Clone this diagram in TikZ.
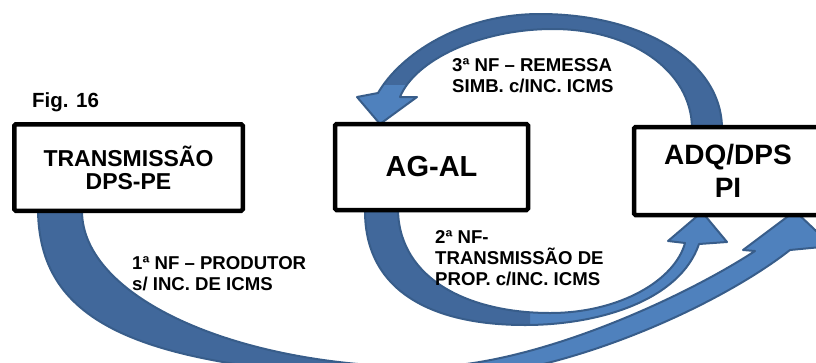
\documentclass[tikz,border=0pt]{standalone}
\usepackage{fontspec}
\setmainfont{Liberation Sans}
\usetikzlibrary{backgrounds}
\definecolor{arrowlight}{HTML}{4F81BD}
\definecolor{arrowdark}{HTML}{41689B}
\definecolor{arrowedge}{HTML}{385D8A}
\begin{document}
\begin{tikzpicture}[x=1pt,y=-1pt,
  box/.style={draw=black, line width=4.5pt, fill=white, rounded corners=1.5pt, align=center, inner sep=0pt},
  lbl/.style={font=\fontsize{18.6}{21}\selectfont\bfseries, align=left, inner sep=0pt, anchor=base west},
  lightpart/.style={fill=arrowlight},
  darkpart/.style={fill=arrowdark},
  arrowline/.style={draw=arrowedge, line width=2pt, line join=round}]
\useasboundingbox (0,0) rectangle (816,362);
\clip (0,0) rectangle (816,362);

% boxes
\node[box, minimum width=228.5pt, minimum height=86.5pt, font=\fontsize{23}{23}\selectfont\bfseries] (tr) at (128.5,167.5) {TRANSMISSÃO\\DPS-PE};
\node[box, minimum width=193pt, minimum height=86pt, font=\fontsize{29}{33}\selectfont\bfseries] (ag) at (431.5,167) {AG-AL};
\node[box, minimum width=188pt, minimum height=88pt, font=\fontsize{28}{33}\selectfont\bfseries] (adq) at (728,171) {ADQ/DPS\\PI};

% labels (base anchor = last line's baseline)
\node[lbl, font=\fontsize{20.5}{24}\selectfont\bfseries] (fig) at (32,107) {Fig. 16};
\node[lbl] (l3) at (452,92) {3ª NF – REMESSA\\SIMB. c/INC. ICMS};
\node[lbl] (l1) at (132,290) {1ª NF – PRODUTOR\\s/ INC. DE ICMS};
\node[lbl] (l2) at (435,285) {2ª NF-\\TRANSMISSÃO DE\\PROP. c/INC. ICMS};

% block arrows
\def\arrowOne{(82,211) .. controls (82,297) and (236,367) .. (425,367)
  .. controls (530,367) and (680,300) .. (755,251)
  -- (743,250) -- (795,211) -- (832,246) -- (790,250)
  .. controls (720,305) and (560,380) .. (425,380)
  .. controls (150,370) and (40,330) .. (38,211) -- cycle}
\def\arrowTwo{(365,211) .. controls (365,290) and (430,325) .. (525,325)
  .. controls (600,325) and (680,300) .. (699,244)
  -- (727,242) -- (702,212) -- (668,241) -- (685,243)
  .. controls (675,280) and (620,313) .. (550,313)
  .. controls (470,313) and (400,280) .. (398,211) -- cycle}
\def\arrowThree{(722,129) .. controls (722,60) and (640,14) .. (540,14)
  .. controls (460,14) and (400,55) .. (378,93)
  -- (357,97) -- (380,124) -- (417,97) -- (400,97)
  .. controls (415,60) and (480,29) .. (553,29)
  .. controls (630,29) and (692,70) .. (692,129) -- cycle}

\begin{pgfonlayer}{background}
  \fill[lightpart] \arrowOne;
  \begin{scope}\clip (0,0) rectangle (440,400); \fill[darkpart] \arrowOne; \end{scope}
  \draw[arrowline] \arrowOne;
  \fill[lightpart] \arrowTwo;
  \begin{scope}\clip (0,0) rectangle (530,400); \fill[darkpart] \arrowTwo; \end{scope}
  \draw[arrowline] \arrowTwo;
  \fill[darkpart] \arrowThree;
  \begin{scope}\clip (340,85) rectangle (430,130); \fill[lightpart] \arrowThree; \end{scope}
  \draw[arrowline] \arrowThree;
\end{pgfonlayer}
\end{tikzpicture}
\end{document}
